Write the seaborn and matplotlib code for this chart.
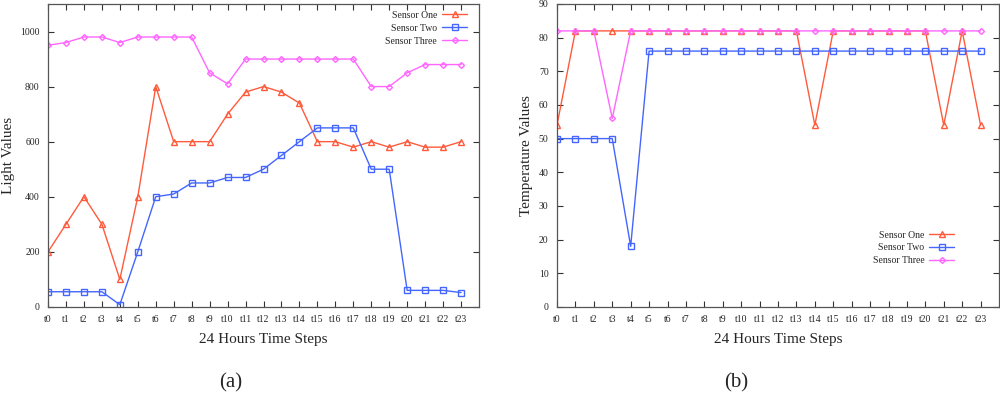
import numpy as np
import pandas as pd
import matplotlib.pyplot as plt
import seaborn as sns

steps = ['t%d' % i for i in range(24)]

# (a) light values
light_one = [200, 300, 400, 300, 100, 400, 800, 600, 600, 600, 700, 780,
             800, 780, 740, 600, 600, 580, 600, 580, 600, 580, 580, 600]
light_two = [55, 55, 55, 55, 8, 200, 400, 410, 450, 450, 470, 470,
             500, 550, 600, 650, 650, 650, 500, 500, 60, 60, 60, 52]
light_three = [950, 960, 980, 980, 960, 980, 980, 980, 980, 850, 810, 900,
               900, 900, 900, 900, 900, 900, 800, 800, 850, 880, 880, 880]

# (b) temperature values
temp_one = [54, 82, 82, 82, 82, 82, 82, 82, 82, 82, 82, 82,
            82, 82, 54, 82, 82, 82, 82, 82, 82, 54, 82, 54]
temp_two = [50, 50, 50, 50, 18, 76, 76, 76, 76, 76, 76, 76,
            76, 76, 76, 76, 76, 76, 76, 76, 76, 76, 76, 76]
temp_three = [82, 82, 82, 56, 82, 82, 82, 82, 82, 82, 82, 82,
              82, 82, 82, 82, 82, 82, 82, 82, 82, 82, 82, 82]

names = ['Sensor One', 'Sensor Two', 'Sensor Three']
colors = ['#ff5a3c', '#4466ff', '#ff66ff']
markers = ['^', 's', 'D']
msizes = [5, 5, 3]

sns.set_style('ticks')
plt.rcParams['font.family'] = ['Liberation Serif', 'DejaVu Serif']


def draw(ax, series, ylabel, ylim, yticks, anchor):
    x = np.arange(24)
    for name, vals, c, m, ms in zip(names, series, colors, markers, msizes):
        df = pd.DataFrame({'x': x, 'y': vals})
        sns.lineplot(data=df, x='x', y='y', ax=ax, color=c, marker=m,
                     markersize=ms, markerfacecolor='none', markeredgecolor=c,
                     markeredgewidth=1, linewidth=1, label=name)
    ax.set_xlim(0, 24)
    ax.set_ylim(*ylim)
    ax.set_xticks(x)
    ax.set_xticklabels(steps)
    ax.set_yticks(yticks)
    ax.tick_params(direction='in', top=True, right=True, labelsize=7,
                   length=4, width=0.8, color='#333333', pad=6)
    for s in ax.spines.values():
        s.set_color('#555555')
        s.set_linewidth(0.9)
    ax.set_xlabel('24 Hours Time Steps', fontsize=11, labelpad=6)
    ax.set_ylabel(ylabel, fontsize=11)
    ax.legend(loc='upper right', bbox_to_anchor=anchor, frameon=False,
              markerfirst=False, fontsize=7, handlelength=2.6,
              handletextpad=0.5, labelspacing=0.4, borderaxespad=0)


fig = plt.figure(figsize=(10, 3.96), dpi=100)
ax1 = fig.add_axes([0.048, 0.225, 0.431, 0.765])
ax2 = fig.add_axes([0.557, 0.225, 0.442, 0.765])

draw(ax1, [light_one, light_two, light_three], 'Light Values',
     (0, 1100), [0, 200, 400, 600, 800, 1000], (0.982, 0.99))
draw(ax2, [temp_one, temp_two, temp_three], 'Temperature Values',
     (0, 90), list(range(0, 91, 10)), (0.908, 0.265))

fig.text(0.231, 0.032, '(a)', fontsize=15, ha='center', va='center')
fig.text(0.736, 0.032, '(b)', fontsize=15, ha='center', va='center')

fig.savefig('out.png', dpi=100)
